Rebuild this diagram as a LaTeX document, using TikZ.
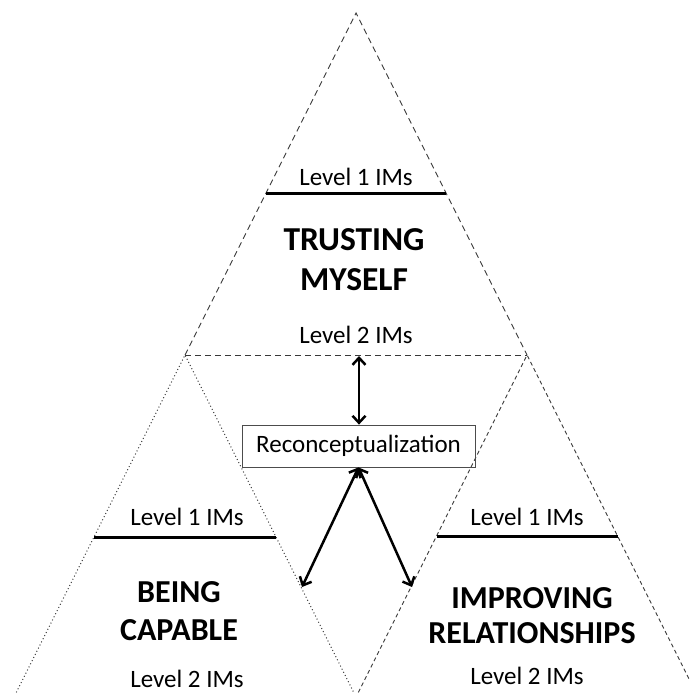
\documentclass[tikz,border=0pt]{standalone}
\usepackage{fontspec}
\setmainfont{Carlito}
\usetikzlibrary{arrows.meta}
\begin{document}
\begin{tikzpicture}[x=1pt,y=-1pt,
  edge/.style={line width=0.9pt, draw=black!78},
  topedge/.style={edge, dash pattern=on 6pt off 4pt},
  leftedge/.style={edge, line width=1pt, dash pattern=on 1pt off 2.5pt},
  rightedge/.style={edge, dash pattern=on 4pt off 3pt},
  levelline/.style={line width=3pt},
  lvl/.style={font=\fontsize{25}{30}\selectfont, anchor=base, inner sep=0pt},
  title/.style={font=\fontsize{32}{38}\selectfont\bfseries, anchor=base, inner sep=0pt},
  bigtitle/.style={title, font=\fontsize{33.5}{40}\selectfont\bfseries},
  barb/.tip={Straight Barb[length=7pt,width=13pt]},
  link/.style={line width=2.5pt, barb-barb},
]
\useasboundingbox (0,0) rectangle (689,693);
\clip (0,0) rectangle (689,693);

% corner points of the three triangles
\coordinate (apex) at (356,13);
\coordinate (tl) at (185,355);
\coordinate (tr) at (527,355);
\coordinate (lbl) at (-15,755);
\coordinate (lbr) at (385,755);
\coordinate (rbl) at (327,755);
\coordinate (rbr) at (727,755);

% triangle outlines
\draw[topedge] (tl) -- (apex) -- (tr);
\draw[topedge] (tl) -- (tr);
\draw[leftedge] (lbl) -- (tl) -- (lbr);
\draw[rightedge] (rbl) -- (tr) -- (rbr);

% level 1 boundaries
\coordinate (t1a) at (266,193);
\coordinate (t1b) at (446,193);
\coordinate (l1a) at (94,537);
\coordinate (l1b) at (276,537);
\coordinate (r1a) at (437,536);
\coordinate (r1b) at (618,536);
\draw[levelline] (t1a) -- (t1b);
\draw[levelline] (l1a) -- (l1b);
\draw[levelline] (r1a) -- (r1b);

% top triangle texts
\node[lvl] (tlev1) at (356,185) {Level 1 IMs};
\node[bigtitle] (tname1) at (354,250) {TRUSTING};
\node[bigtitle] (tname2) at (354,290) {MYSELF};
\node[lvl] (tlev2) at (356,343) {Level 2 IMs};

% left triangle texts
\node[lvl] (llev1) at (187,525) {Level 1 IMs};
\node[title] (lname1) at (179,602) {BEING};
\node[title] (lname2) at (179,640) {CAPABLE};
\node[lvl] (llev2) at (187,687) {Level 2 IMs};

% right triangle texts
\node[lvl] (rlev1) at (527,525) {Level 1 IMs};
\node[title] (rname1) at (532,608) {IMPROVING};
\node[title] (rname2) at (532,643) {RELATIONSHIPS};
\node[lvl] (rlev2) at (527,684) {Level 2 IMs};

% central box
\node[draw=black!70, line width=0.8pt, minimum width=233pt, minimum height=42pt,
      inner sep=0pt, font=\fontsize{25}{30}\selectfont] (recon) at (358.5,446) {Reconceptualization};

% links
\coordinate (topmid) at (359,356);
\coordinate (lhit) at (302,587);
\coordinate (rhit) at (412,587);
\draw[link] (topmid) -- (recon.north -| topmid);
\draw[link] (recon.south) -- (lhit);
\draw[link] (recon.south) -- (rhit);
\end{tikzpicture}
\end{document}
